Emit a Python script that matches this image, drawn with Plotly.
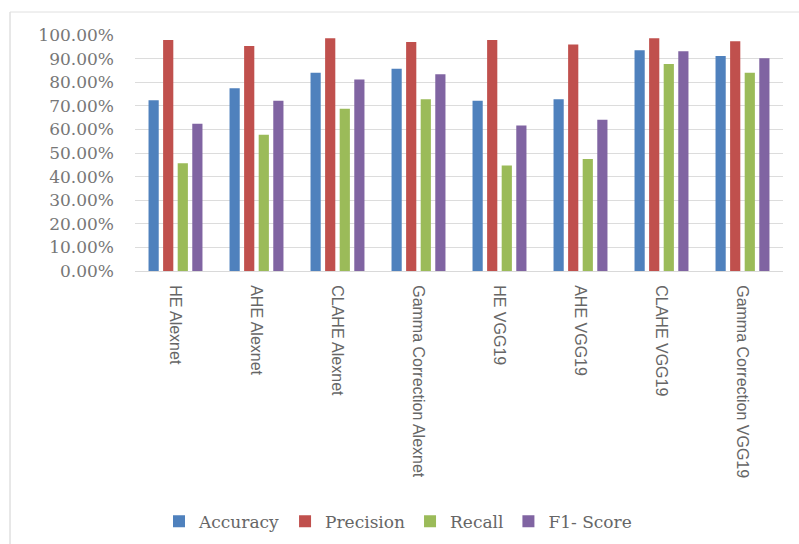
import plotly.graph_objects as go

categories = ["HE Alexnet", "AHE Alexnet", "CLAHE Alexnet", "Gamma Correction Alexnet",
              "HE VGG19", "AHE VGG19", "CLAHE VGG19", "Gamma Correction VGG19"]
accuracy = [0.723, 0.774, 0.840, 0.857, 0.721, 0.728, 0.935, 0.911]
precision = [0.979, 0.953, 0.986, 0.970, 0.979, 0.960, 0.986, 0.974]
recall = [0.457, 0.577, 0.688, 0.728, 0.447, 0.475, 0.877, 0.840]
f1_score = [0.624, 0.721, 0.811, 0.834, 0.616, 0.641, 0.931, 0.902]

series = [("Accuracy", accuracy, "#4F81BD"),
          ("Precision", precision, "#C0504D"),
          ("Recall", recall, "#9BBB59"),
          ("F1- Score", f1_score, "#8064A2")]

fig = go.Figure()
for name, vals, col in series:
    fig.add_trace(go.Bar(x=categories, y=vals, name=name, marker_color=col,
                         marker_line_width=0))

W, H = 799, 544
L, R, T, B = 135, 16, 35, 273
pw, ph = W - L - R, H - T - B

def px(x):
    return (x - L) / pw

def py(y):
    return (H - B - y) / ph

fig.update_layout(
    width=W, height=H,
    margin=dict(l=L, r=R, t=T, b=B),
    paper_bgcolor="white", plot_bgcolor="white",
    barmode="group", bargap=0.28, bargroupgap=0.3,
    showlegend=True,
    legend=dict(orientation="h", x=px(398), xanchor="center", y=0.008, yref="container",
                yanchor="bottom",
                font=dict(family="DejaVu Serif", size=17, color="#666666"),
                itemwidth=30, traceorder="normal"),
    xaxis=dict(tickangle=90, tickfont=dict(family="Liberation Sans", size=16, color="#666666"),
               showline=True, linecolor="#d9d9d9", linewidth=1, showgrid=False, ticks="",
               ticklabelstandoff=10),
    yaxis=dict(range=[0, 1.0], dtick=0.1, tickformat=".2%",
               tickfont=dict(family="DejaVu Serif", size=17, color="#777777"),
               showgrid=True, gridcolor="#dcdcdc", gridwidth=1,
               zeroline=False, showline=False, ticks="", ticklabelstandoff=20),
    shapes=[
        dict(type="line", xref="paper", yref="paper", x0=px(10), x1=px(10), y0=py(12), y1=py(544),
             line=dict(color="#d0d0d0", width=1)),
        dict(type="line", xref="paper", yref="paper", x0=px(10), x1=px(799), y0=py(12), y1=py(12),
             line=dict(color="#e0e0e0", width=1)),
    ],
)

fig.write_html("out.html")
